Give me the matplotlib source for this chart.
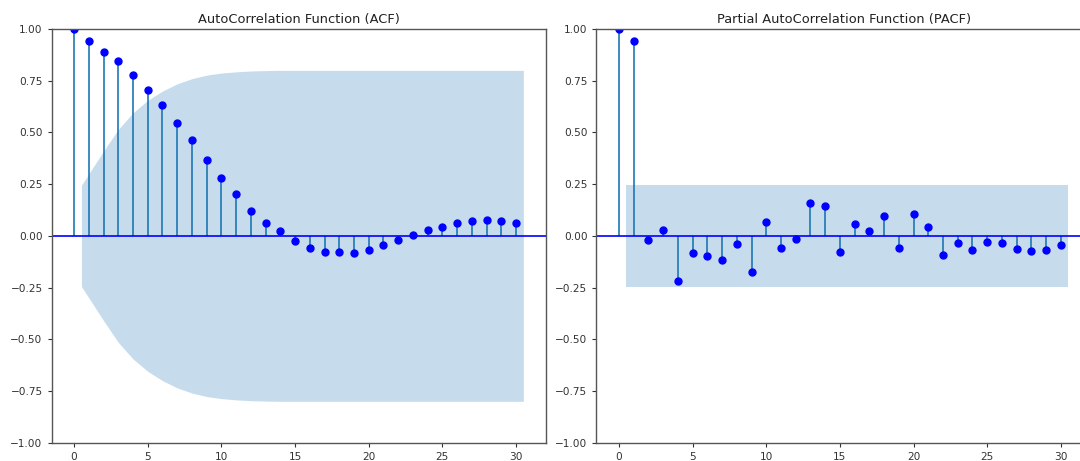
import numpy as np
import matplotlib
matplotlib.use("Agg")
import matplotlib.pyplot as plt

lags = list(range(31))

acf_vals = [1.0, 0.944, 0.889, 0.845, 0.776, 0.703, 0.631, 0.547, 0.461, 0.366,
            0.282, 0.202, 0.119, 0.063, 0.024, -0.024, -0.058, -0.077, -0.080, -0.085,
            -0.069, -0.042, -0.019, 0.002, 0.027, 0.045, 0.063, 0.073, 0.076, 0.073,
            0.060]

# half-width of the ACF confidence band at lags 1..30
acf_band = [0.245, 0.41, 0.515, 0.595, 0.655, 0.70, 0.735, 0.76, 0.777, 0.787,
            0.793, 0.797, 0.799, 0.80, 0.80, 0.80, 0.80, 0.80, 0.80, 0.80,
            0.80, 0.80, 0.80, 0.80, 0.80, 0.80, 0.80, 0.80, 0.80, 0.80]

pacf_vals = [1.0, 0.944, -0.021, 0.030, -0.216, -0.085, -0.096, -0.119, -0.037, -0.176,
             0.068, -0.058, -0.016, 0.160, 0.145, -0.077, 0.055, 0.023, 0.095, -0.058,
             0.106, 0.044, -0.095, -0.035, -0.069, -0.030, -0.035, -0.064, -0.072, -0.067,
             -0.042]

pacf_band = [0.245] * 30

titles = ["AutoCorrelation Function (ACF)", "Partial AutoCorrelation Function (PACF)"]
yticks = [-1.0, -0.75, -0.5, -0.25, 0.0, 0.25, 0.5, 0.75, 1.0]
xticks = [0, 5, 10, 15, 20, 25, 30]

fig = plt.figure(figsize=(10.8, 4.61), dpi=100)
ax1 = fig.add_axes([0.0478, 0.0397, 0.4576, 0.8974])
ax2 = fig.add_axes([0.5523, 0.0397, 0.4576, 0.8974])


def draw(ax, vals, band, title):
    x = np.array(lags, dtype=float)
    v = np.array(vals)
    ax.vlines(x, [0], v, color="C0", linewidth=1.2)
    ax.axhline(0, color="blue", linewidth=1.2)
    ax.plot(x, v, marker="o", markersize=5, linestyle="None", color="blue")
    bx = x[1:].copy()
    bx[0] -= 0.5
    bx[-1] += 0.5
    b = np.array(band)
    ax.fill_between(bx, -b, b, alpha=0.25, color="C0", linewidth=0)
    ax.set_xlim(-1.525, 32.025)
    ax.set_ylim(-1, 1)
    ax.set_yticks(yticks)
    ax.set_yticklabels([f"{t:.2f}".replace("-", "\u2212") for t in yticks])
    ax.set_xticks(xticks)
    ax.tick_params(labelsize=7.6, length=3, width=0.8, colors="#333333")
    for s in ax.spines.values():
        s.set_color("#555555")
        s.set_linewidth(1.0)
    ax.set_title(title, fontsize=9.4, pad=4, color="#222222")


draw(ax1, acf_vals, acf_band, titles[0])
draw(ax2, pacf_vals, pacf_band, titles[1])

fig.savefig("out.png", dpi=100)
